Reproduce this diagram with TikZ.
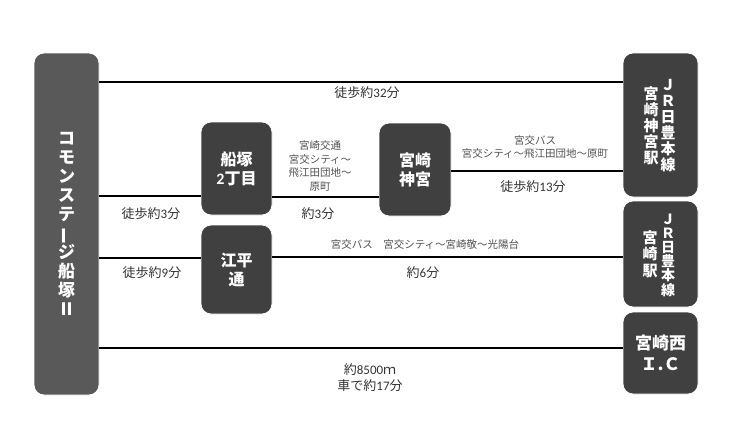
\documentclass[tikz,border=0pt]{standalone}
\usepackage{fontspec}
\setmainfont{Noto Sans CJK JP}
\newfontfamily\numfont{Carlito}
\newcommand\nm[1]{{\numfont #1}}
\newcommand\nmb[1]{{\numfont\bfseries #1}}
\definecolor{boxdark}{HTML}{404040}
\definecolor{boxmid}{HTML}{595959}
\definecolor{labtext}{HTML}{333333}
\definecolor{smalltext}{HTML}{505050}
\tikzset{
  stopbox/.style={draw=white, line width=0.8pt, fill=boxdark, rounded corners=10pt,
    text=white, font=\bfseries\fontsize{16}{19}\selectfont, align=center, inner sep=0pt},
  link/.style={line width=1.7pt, black},
  lab/.style={text=labtext, font=\fontsize{13}{15}\selectfont, inner sep=0pt, align=center},
  smalllab/.style={text=smalltext, font=\fontsize{10.5}{13.5}\selectfont, inner sep=0pt, align=center},
  vcol/.style={text=white, font=\bfseries\fontsize{15}{16}\selectfont, align=center, inner sep=0pt}
}
\begin{document}
\begin{tikzpicture}[x=1pt,y=-1pt]
\useasboundingbox (0,0) rectangle (730,431);
% boxes
\node[stopbox, fill=boxmid, minimum width=65pt, minimum height=342pt,
  font=\bfseries\fontsize{17}{19}\selectfont] (home) at (66.5,224)
  {コ\\モ\\ン\\ス\\テ\\\rotatebox[origin=c]{90}{ー}\\ジ\\船\\塚\\Ⅱ};
\node[stopbox, minimum width=71pt, minimum height=93pt] (fun) at (236.5,168.5) {船塚\\\nmb{2}丁目};
\node[stopbox, minimum width=71pt, minimum height=89pt] (ehira) at (236.5,269.5) {江平\\通};
\node[stopbox, minimum width=72pt, minimum height=93pt] (jingu) at (415,169.5) {宮崎\\神宮};
\node[stopbox, minimum width=75pt, minimum height=144pt] (jrjingu) at (660.5,125) {};
\node[stopbox, minimum width=75pt, minimum height=106pt] (jrmiya) at (660.5,254) {};
\node[stopbox, minimum width=75pt, minimum height=82pt, font=\bfseries\fontsize{17}{21}\selectfont] (ic) at (660.5,353) {宮崎西\\Ｉ.Ｃ};
% vertical texts in JR boxes
\node[vcol] (jr1a) at (668,125.5) {Ｊ\\Ｒ\\日\\豊\\本\\線};
\node[vcol] (jr1b) at (651,126) {宮\\崎\\神\\宮\\駅};
\node[vcol, font=\bfseries\fontsize{14}{14.2}\selectfont] (jr2a) at (668,255) {Ｊ\\Ｒ\\日\\豊\\本\\線};
\node[vcol, font=\bfseries\fontsize{15}{16.5}\selectfont] (jr2b) at (650,254) {宮\\崎\\駅};
% connectors
\draw[link] (home.east |- 0,82) -- (jrjingu.west |- 0,82);
\draw[link] (home.east |- 0,196) -- (fun.west |- 0,196);
\draw[link] (fun.east |- 0,197) -- (jingu.west |- 0,197);
\draw[link] (jingu.east |- 0,171) -- (jrjingu.west |- 0,171);
\draw[link] (home.east |- 0,258) -- (ehira.west |- 0,258);
\draw[link] (ehira.east |- 0,257) -- (jrmiya.west |- 0,257);
\draw[link] (home.east |- 0,348) -- (ic.west |- 0,348);
% labels
\node[lab] (l32) at (367,93) {徒歩約\nm{32}分};
\node[lab] (l3a) at (151,214) {徒歩約\nm{3}分};
\node[lab] (l3b) at (318,214) {約\nm{3}分};
\node[smalllab] (busa) at (320,166) {宮崎交通\\宮交シティ～\\飛江田団地～\\原町};
\node[smalllab] (busb) at (535,147) {宮交バス\\宮交シティ～飛江田団地～原町};
\node[lab] (l13) at (533,187) {徒歩約\nm{13}分};
\node[lab] (l9) at (152,273) {徒歩約\nm{9}分};
\node[smalllab] (busc) at (425,245) {宮交バス　宮交シティ～宮崎敬～光陽台};
\node[lab] (l6) at (423,273) {約\nm{6}分};
\node[lab, font=\fontsize{13}{16}\selectfont] (car) at (370,378) {約\nm{8500}ｍ\\車で約\nm{17}分};
\end{tikzpicture}
\end{document}
